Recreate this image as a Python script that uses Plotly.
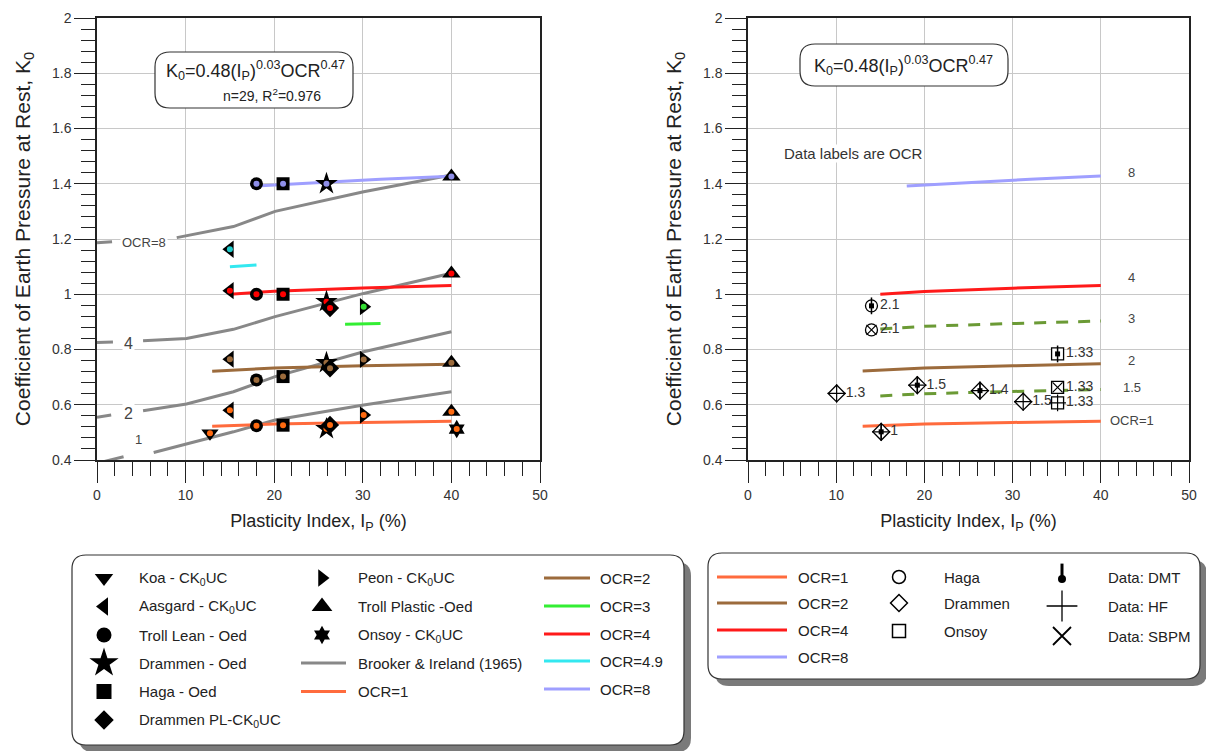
import plotly.graph_objects as go

W, H = 1206, 751

# ---------------- Left panel: measured K0 per data set ----------------
koa_x = [12.75]
koa_y = [0.497]
koa_ocr = [1]

aasgard_x = [15.0, 15.0, 15.0, 15.0]
aasgard_y = [0.580, 0.765, 1.013, 1.163]
aasgard_ocr = [1, 2, 4, 4.9]

troll_lean_x = [18.0, 18.0, 18.0, 18.0]
troll_lean_y = [0.524, 0.690, 1.000, 1.400]
troll_lean_ocr = [1, 2, 4, 8]

drammen_oed_x = [25.9, 25.9, 25.9, 25.9]
drammen_oed_y = [0.513, 0.752, 0.973, 1.400]
drammen_oed_ocr = [1, 2, 4, 8]

haga_oed_x = [21.0, 21.0, 21.0, 21.0]
haga_oed_y = [0.526, 0.702, 1.000, 1.400]
haga_oed_ocr = [1, 2, 4, 8]

drammen_pl_x = [26.3, 26.3, 26.3]
drammen_pl_y = [0.527, 0.732, 0.950]
drammen_pl_ocr = [1, 2, 4]

peon_x = [30.1, 30.1, 30.1]
peon_y = [0.563, 0.764, 0.955]
peon_ocr = [1, 2, 3]

troll_plastic_x = [40.0, 40.0, 40.0, 40.0]
troll_plastic_y = [0.575, 0.752, 1.075, 1.426]
troll_plastic_ocr = [1, 2, 4, 8]

onsoy_x = [40.6]
onsoy_y = [0.512]
onsoy_ocr = [1]

# Fitted relation K0 = 0.48 Ip^0.03 OCR^0.47 (curves)
fit_ocr1_x = [13, 20, 30, 40]
fit_ocr1_y = [0.522, 0.530, 0.536, 0.540]
fit_ocr2_x = [13, 20, 30, 40]
fit_ocr2_y = [0.721, 0.733, 0.741, 0.747]
fit_ocr3_x = [28, 32]
fit_ocr3_y = [0.891, 0.894]
fit_ocr4_x = [15, 20, 30, 40]
fit_ocr4_y = [1.000, 1.011, 1.023, 1.032]
fit_ocr49_x = [15, 18]
fit_ocr49_y = [1.100, 1.106]
fit_ocr8_x = [18, 25, 32, 40]
fit_ocr8_y = [1.392, 1.405, 1.416, 1.427]

# Brooker & Ireland (1965) curves (None = gap where the label sits)
bi_ocr8_x = [0, 1.7, None, 9.0, 15.4, 20.1, 30.1, 40]
bi_ocr8_y = [1.186, 1.190, None, 1.205, 1.245, 1.300, 1.371, 1.432]
bi_ocr4_x = [0, 1.8, None, 5.2, 10.1, 15.4, 20.1, 30.1, 40]
bi_ocr4_y = [0.825, 0.827, None, 0.832, 0.840, 0.873, 0.919, 1.003, 1.076]
bi_ocr2_x = [0, 1.6, None, 5.2, 10.1, 15.4, 20.1, 30.1, 40]
bi_ocr2_y = [0.555, 0.563, None, 0.578, 0.603, 0.647, 0.702, 0.792, 0.864]
bi_ocr1_x = [0, 3.0, None, 6.4, 10.1, 15.4, 20.1, 30.1, 40]
bi_ocr1_y = [0.388, 0.412, None, 0.427, 0.458, 0.502, 0.545, 0.599, 0.647]
bi_labels = ["OCR=8", "4", "2", "1"]
bi_label_x = [5.3, 3.5, 3.5, 4.7]
bi_label_y = [1.187, 0.822, 0.569, 0.475]

# ---------------- Right panel: in-situ data ----------------
r_site = ["Haga", "Haga", "Onsoy", "Drammen", "Drammen", "Drammen", "Drammen", "Onsoy", "Onsoy", "Drammen"]
r_x = [14.0, 14.0, 35.1, 10.05, 19.2, 26.3, 31.2, 35.1, 35.1, 15.1]
r_y = [0.958, 0.871, 0.784, 0.641, 0.671, 0.651, 0.611, 0.663, 0.607, 0.502]
r_method = ["DMT", "SBPM", "DMT", "HF", "DMT+HF", "DMT+HF", "HF", "SBPM", "HF", "DMT+HF"]
r_ocr_label = ["2.1", "2.1", "1.33", "1.3", "1.5", "1.4", "1.5", "1.33", "1.33", "1"]

r_ocr1_x = [13, 20, 30, 40]
r_ocr1_y = [0.522, 0.530, 0.536, 0.540]
r_ocr15_x = [15, 20, 30, 40]
r_ocr15_y = [0.632, 0.640, 0.648, 0.655]
r_ocr2_x = [13, 20, 30, 40]
r_ocr2_y = [0.722, 0.733, 0.741, 0.748]
r_ocr3_x = [15, 20, 30, 40]
r_ocr3_y = [0.874, 0.884, 0.894, 0.903]
r_ocr4_x = [15, 20, 30, 40]
r_ocr4_y = [1.000, 1.010, 1.022, 1.032]
r_ocr8_x = [18, 25, 32, 40]
r_ocr8_y = [1.392, 1.405, 1.416, 1.428]
r_curve_labels = ["8", "4", "3", "2", "1.5", "OCR=1"]
r_curve_label_y = [1.44, 1.06, 0.913, 0.762, 0.664, 0.542]

# ---------------- styles ----------------
FONT = "Arial, Liberation Sans, sans-serif"
LINE_COL = {1: "#ff6b3d", 1.5: "#6b9a35", 2: "#9c6b3c", 3: "#33ee33", 4: "#ff1a1a", 4.9: "#33e8f0", 8: "#9f9fff"}
DOT_COL = {1: "#ff6a10", 2: "#9c6b3c", 3: "#33dd33", 4: "#ff0000", 4.9: "#22cccc", 8: "#8f8fe8"}
GRAY = "#888888"

left_sets = [
    ("Koa - CK<sub>0</sub>UC", "triangle-down", 15, koa_x, koa_y, koa_ocr),
    ("Aasgard - CK<sub>0</sub>UC", "triangle-left", 15, aasgard_x, aasgard_y, aasgard_ocr),
    ("Troll Lean - Oed", "circle", 13, troll_lean_x, troll_lean_y, troll_lean_ocr),
    ("Drammen - Oed", "star", 17, drammen_oed_x, drammen_oed_y, drammen_oed_ocr),
    ("Haga - Oed", "square", 13, haga_oed_x, haga_oed_y, haga_oed_ocr),
    ("Drammen PL-CK<sub>0</sub>UC", "diamond", 14, drammen_pl_x, drammen_pl_y, drammen_pl_ocr),
    ("Peon - CK<sub>0</sub>UC", "triangle-right", 15, peon_x, peon_y, peon_ocr),
    ("Troll Plastic -Oed", "triangle-up", 16, troll_plastic_x, troll_plastic_y, troll_plastic_ocr),
    ("Onsoy - CK<sub>0</sub>UC", "hexagram", 14, onsoy_x, onsoy_y, onsoy_ocr),
]

fig = go.Figure()

# Brooker & Ireland curves
for bx, by in [(bi_ocr8_x, bi_ocr8_y), (bi_ocr4_x, bi_ocr4_y), (bi_ocr2_x, bi_ocr2_y), (bi_ocr1_x, bi_ocr1_y)]:
    fig.add_trace(go.Scatter(x=bx, y=by, mode="lines", line=dict(color=GRAY, width=3),
                             name="Brooker & Ireland (1965)", showlegend=False, xaxis="x", yaxis="y"))

# Fit curves, left panel
for fx, fy, oc in [(fit_ocr1_x, fit_ocr1_y, 1), (fit_ocr2_x, fit_ocr2_y, 2), (fit_ocr3_x, fit_ocr3_y, 3),
                   (fit_ocr4_x, fit_ocr4_y, 4), (fit_ocr49_x, fit_ocr49_y, 4.9), (fit_ocr8_x, fit_ocr8_y, 8)]:
    fig.add_trace(go.Scatter(x=fx, y=fy, mode="lines", line=dict(color=LINE_COL[oc], width=3),
                             name=f"OCR={oc}", showlegend=False, xaxis="x", yaxis="y"))

# Measured points, left panel: black symbol with OCR-coloured centre dot
for name, sym, size, xs, ys, ocrs in left_sets:
    fig.add_trace(go.Scatter(x=xs, y=ys, mode="markers", name=name, showlegend=False,
                             marker=dict(symbol=sym, size=size, color="black", line=dict(width=0)),
                             xaxis="x", yaxis="y"))
    fig.add_trace(go.Scatter(x=xs, y=ys, mode="markers", showlegend=False, hoverinfo="skip",
                             marker=dict(symbol="circle", size=6, color=[DOT_COL[o] for o in ocrs],
                                         line=dict(width=0)),
                             xaxis="x", yaxis="y"))

# Right panel curves
for fx, fy, oc, dash in [(r_ocr1_x, r_ocr1_y, 1, "solid"), (r_ocr15_x, r_ocr15_y, 1.5, "12px,10px"),
                         (r_ocr2_x, r_ocr2_y, 2, "solid"), (r_ocr3_x, r_ocr3_y, 1.5, "12px,10px"),
                         (r_ocr4_x, r_ocr4_y, 4, "solid"), (r_ocr8_x, r_ocr8_y, 8, "solid")]:
    fig.add_trace(go.Scatter(x=fx, y=fy, mode="lines", line=dict(color=LINE_COL[oc], width=3, dash=dash),
                             showlegend=False, xaxis="x2", yaxis="y2"))

site_sym = {"Haga": ("circle", 12), "Drammen": ("diamond", 13), "Onsoy": ("square", 12)}
for site, (sym, size) in site_sym.items():
    idx = [i for i, s in enumerate(r_site) if s == site]
    fig.add_trace(go.Scatter(
        x=[r_x[i] for i in idx], y=[r_y[i] for i in idx], mode="markers+text",
        text=[r_ocr_label[i] for i in idx], textposition="middle right",
        textfont=dict(size=14, color="#333", family=FONT), name=site, showlegend=False,
        marker=dict(symbol=sym, size=size, color="white", line=dict(color="black", width=1.3)),
        xaxis="x2", yaxis="y2"))
    for meth, msym, msize, mw in [("HF", "cross-thin", size, 1.2), ("SBPM", "x-thin", size - 2, 1.2)]:
        sel = [i for i in idx if meth in r_method[i]]
        if sel:
            fig.add_trace(go.Scatter(x=[r_x[i] for i in sel], y=[r_y[i] for i in sel], mode="markers",
                                     showlegend=False, hoverinfo="skip",
                                     marker=dict(symbol=msym, size=msize, line=dict(color="black", width=mw)),
                                     xaxis="x2", yaxis="y2"))
    sel = [i for i in idx if "DMT" in r_method[i]]
    if sel:
        fig.add_trace(go.Scatter(x=[r_x[i] for i in sel], y=[r_y[i] for i in sel], mode="markers",
                                 showlegend=False, hoverinfo="skip",
                                 marker=dict(symbol="line-ns", size=12, line=dict(color="black", width=1.5)),
                                 xaxis="x2", yaxis="y2"))
        fig.add_trace(go.Scatter(x=[r_x[i] for i in sel], y=[r_y[i] for i in sel], mode="markers",
                                 showlegend=False, hoverinfo="skip",
                                 marker=dict(symbol="square", size=5, color="black", line=dict(width=0)),
                                 xaxis="x2", yaxis="y2"))

# ---------------- legend symbols (overlay axis in pixel units) ----------------
L_col1_rows = [578, 606.5, 635, 663, 691.5, 720]
L_col2_rows = [578, 606.5, 635]
leg_sizes = [16, 16, 15, 22, 15, 15, 15, 18, 14]
leg_x = [104] * 6 + [322] * 3
leg_y = L_col1_rows + L_col2_rows
for (name, sym, _s, *_), lx, ly, ls in zip(left_sets, leg_x, leg_y, leg_sizes):
    fig.add_trace(go.Scatter(x=[lx], y=[ly], mode="markers", showlegend=False, hoverinfo="skip",
                             marker=dict(symbol=sym, size=ls, color="black", line=dict(width=0)),
                             xaxis="x3", yaxis="y3"))

R_rows2 = [577, 603, 631]
for (site, (sym, size)), ry in zip(site_sym.items(), R_rows2):
    fig.add_trace(go.Scatter(x=[899], y=[ry], mode="markers", showlegend=False, hoverinfo="skip",
                             marker=dict(symbol=sym, size=13, color="white", line=dict(color="black", width=1.5)),
                             xaxis="x3", yaxis="y3"))
# DMT bulb, HF cross, SBPM x
fig.add_trace(go.Scatter(x=[1062], y=[572], mode="markers", showlegend=False, hoverinfo="skip",
                         marker=dict(symbol="line-ns", size=12, line=dict(color="black", width=3)),
                         xaxis="x3", yaxis="y3"))
fig.add_trace(go.Scatter(x=[1062], y=[579], mode="markers", showlegend=False, hoverinfo="skip",
                         marker=dict(symbol="circle", size=8, color="black", line=dict(width=0)),
                         xaxis="x3", yaxis="y3"))
fig.add_trace(go.Scatter(x=[1062], y=[606], mode="markers", showlegend=False, hoverinfo="skip",
                         marker=dict(symbol="cross-thin", size=22, line=dict(color="black", width=1.3)),
                         xaxis="x3", yaxis="y3"))
fig.add_trace(go.Scatter(x=[1062], y=[636], mode="markers", showlegend=False, hoverinfo="skip",
                         marker=dict(symbol="x-thin", size=18, line=dict(color="black", width=1.8)),
                         xaxis="x3", yaxis="y3"))


def P(x, y):
    return f"{x / W:.5f},{1 - y / H:.5f}"


def rrect(x0, y0, x1, y1, r):
    return (f"M{P(x0 + r, y0)} L{P(x1 - r, y0)} Q{P(x1, y0)} {P(x1, y0 + r)} "
            f"L{P(x1, y1 - r)} Q{P(x1, y1)} {P(x1 - r, y1)} L{P(x0 + r, y1)} "
            f"Q{P(x0, y1)} {P(x0, y1 - r)} L{P(x0, y0 + r)} Q{P(x0, y0)} {P(x0 + r, y0)} Z")


shapes = []
annotations = []


def box(x0, y0, x1, y1, r, layer, shadow=False):
    if shadow:
        shapes.append(dict(type="path", xref="paper", yref="paper", layer=layer,
                           path=rrect(x0 + 7, y0 + 7, x1 + 7, y1 + 7, r),
                           fillcolor="#7a7a7a", line=dict(width=0)))
    shapes.append(dict(type="path", xref="paper", yref="paper", layer=layer, path=rrect(x0, y0, x1, y1, r),
                       fillcolor="white", line=dict(color="#333", width=1.2)))


def ptext(x, y, text, size=15, anchor="left", color="#222"):
    annotations.append(dict(x=x / W, y=1 - y / H, xref="paper", yref="paper", text=text, showarrow=False,
                            xanchor=anchor, yanchor="middle", bgcolor="white", borderpad=0,
                            font=dict(size=size, color=color, family=FONT)))


def pline(x0, x1, y, color):
    shapes.append(dict(type="line", xref="paper", yref="paper", x0=x0 / W, x1=x1 / W, y0=1 - y / H,
                       y1=1 - y / H, line=dict(color=color, width=3), layer="below"))


# legend boxes
box(72, 555, 684, 745, 14, "below", shadow=True)
box(708, 553, 1200, 679, 14, "below", shadow=True)

for (name, *_), lx, ly in zip(left_sets, [138] * 6 + [357] * 3, leg_y):
    ptext(lx, ly, name)
pline(301, 346, 663, GRAY)
ptext(357, 663, "Brooker & Ireland (1965)")
pline(301, 346, 691.5, LINE_COL[1])
ptext(357, 691.5, "OCR=1")
for oc, ly in zip([2, 3, 4, 4.9, 8], [578, 606, 634, 661, 689]):
    pline(544, 590, ly, LINE_COL[oc])
    ptext(599, ly, f"OCR={oc}")

for oc, ly in zip([1, 2, 4, 8], [577, 603, 630, 657]):
    pline(717, 787, ly, LINE_COL[oc])
    ptext(797, ly, f"OCR={oc}")
for site, ly in zip(site_sym.keys(), R_rows2):
    ptext(943, ly, site)
for t, ly in zip(["Data: DMT", "Data: HF", "Data: SBPM"], [577, 606, 636]):
    ptext(1107, ly, t)

# equation boxes
box(155, 52, 353, 108, 15, "above")
ptext(255, 70, "K<sub>0</sub>=0.48(I<sub>P</sub>)<sup>0.03</sup>OCR<sup>0.47</sup>", size=18, anchor="center")
ptext(272, 95, "n=29, R<sup>2</sup>=0.976", size=14, anchor="center")
box(800, 44, 1008, 86, 15, "above")
ptext(903, 66, "K<sub>0</sub>=0.48(I<sub>P</sub>)<sup>0.03</sup>OCR<sup>0.47</sup>", size=18, anchor="center")

# curve labels in data coordinates
for t, lx, ly in zip(bi_labels, bi_label_x, bi_label_y):
    annotations.append(dict(x=lx, y=ly, xref="x", yref="y", text=t, showarrow=False, bgcolor="white",
                            font=dict(size=13 if len(t) > 1 or t == "1" else 16, color="#444", family=FONT)))
for t, ly in zip(r_curve_labels, r_curve_label_y):
    annotations.append(dict(x=43.5, y=ly, xref="x2", yref="y2", text=t, showarrow=False, bgcolor="white",
                            borderpad=0, font=dict(size=13, color="#444", family=FONT)))
annotations.append(dict(x=12.0, y=1.51, xref="x2", yref="y2", text="Data labels are OCR", showarrow=False,
                        bgcolor="white", borderpad=0, font=dict(size=15, color="#333", family=FONT)))

ax_common = dict(showline=True, linecolor="#222", linewidth=1.5, mirror=True, ticks="outside", ticklen=21,
                 tickwidth=1, tickcolor="#222", showgrid=True, gridcolor="#c8c8c8", gridwidth=1,
                 zeroline=False, automargin=False, tickfont=dict(size=14, color="#333", family=FONT))
xcommon = dict(ax_common, range=[0, 50], tick0=0, dtick=10,
               minor=dict(ticks="outside", ticklen=14, tickcolor="#222", tickwidth=1, dtick=2, showgrid=False),
               title=dict(text="Plasticity Index, I<sub>P</sub> (%)", font=dict(size=18, color="#222", family=FONT),
                          standoff=13))
ycommon = dict(ax_common, range=[0.4, 2], tick0=0.4, dtick=0.2,
               minor=dict(ticks="outside", ticklen=14, tickcolor="#222", tickwidth=1, dtick=0.04, showgrid=False),
               title=dict(text="Coefficient of Earth Pressure at Rest, K<sub>0</sub>",
                          font=dict(size=21, color="#222", family=FONT), standoff=16))

ydom = [1 - 460 / H, 1 - 18 / H]
fig.update_layout(
    template="none",
    width=W, height=H, margin=dict(l=0, r=0, t=0, b=0),
    paper_bgcolor="white", plot_bgcolor="rgba(0,0,0,0)", showlegend=False,
    font=dict(family=FONT, color="#222", size=14),
    xaxis=dict(xcommon, domain=[97 / W, 540 / W], anchor="y"),
    yaxis=dict(ycommon, domain=ydom, anchor="x"),
    xaxis2=dict(xcommon, domain=[748 / W, 1189 / W], anchor="y2"),
    yaxis2=dict(ycommon, domain=ydom, anchor="x2"),
    xaxis3=dict(domain=[0, 1], range=[0, W], visible=False, anchor="y3", fixedrange=True),
    yaxis3=dict(domain=[0, 1], range=[H, 0], visible=False, anchor="x3", fixedrange=True),
    shapes=shapes, annotations=annotations,
)

fig.write_html("out.html")
